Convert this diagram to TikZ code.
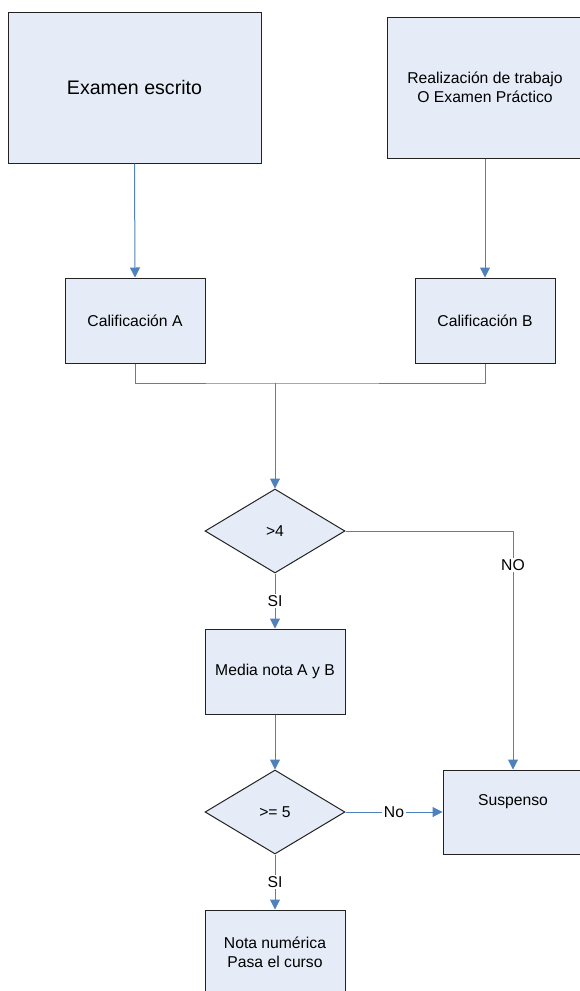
\documentclass[tikz,border=0pt]{standalone}
\usepackage{fontspec}
\setmainfont{Liberation Sans}
\usetikzlibrary{arrows.meta,shapes.geometric}
\definecolor{boxfill}{HTML}{E6ECF7}
\definecolor{conn}{HTML}{4F81BD}
\definecolor{edge}{HTML}{222222}
\begin{document}
\begin{tikzpicture}[x=1pt,y=-1pt,
  txt/.style={font=\fontsize{15.7}{19}\selectfont, align=center},
  procbox/.style={draw=edge, fill=boxfill, line width=1pt, rectangle, inner sep=0pt, txt},
  decbox/.style={draw=edge, fill=boxfill, line width=1pt, diamond, inner sep=0pt,
    minimum width=140pt, minimum height=84pt, txt},
  link/.style={draw=conn, line width=1pt},
  arr/.style={link, -{Triangle[length=10pt,width=10pt]}},
  lbl/.style={fill=white, inner sep=1.5pt, txt}
]
\useasboundingbox (0,0) rectangle (580,991);

\node[procbox, minimum width=253pt, minimum height=151pt,
      font=\fontsize{19.6}{23}\selectfont] (exam) at (134.5,87.5) {Examen escrito};
\node[procbox, minimum width=196pt, minimum height=141pt] (trab) at (485,87.5)
  {Realización de trabajo\\O Examen Práctico};
\node[procbox, minimum width=140pt, minimum height=85pt] (calA) at (135,320.5) {Calificación A};
\node[procbox, minimum width=140pt, minimum height=85pt] (calB) at (485,320.5) {Calificación B};
\coordinate (join) at (275,383);
\node[decbox] (d1) at (275,531) {>4};
\node[procbox, minimum width=140pt, minimum height=85pt] (media) at (275,671.5) {Media nota A y B};
\node[decbox] (d2) at (275,812) {>= 5};
\node[procbox, minimum width=140pt, minimum height=84pt,
      label={[txt, anchor=center, yshift=10pt]center:Suspenso}] (susp) at (513,812) {};
\node[procbox, minimum width=140pt, minimum height=85pt] (nota) at (275,952.5)
  {Nota numérica\\Pasa el curso};

\draw[arr] (exam.south) -- (calA.north);
\draw[arr] (trab.south) -- (calB.north);
\draw[link] (calA.south) |- (join) -| (calB.south);
\draw[arr] (join) -- (d1.north);
\draw[arr] (d1.east) -| node[lbl, pos=0.571] {NO} (susp.north);
\draw[arr] (d1.south) -- node[lbl] {SI} (media.north);
\draw[arr] (media.south) -- (d2.north);
\draw[arr] (d2.east) -- node[lbl] {No} (susp.west);
\draw[arr] (d2.south) -- node[lbl] {SI} (nota.north);
\end{tikzpicture}
\end{document}
